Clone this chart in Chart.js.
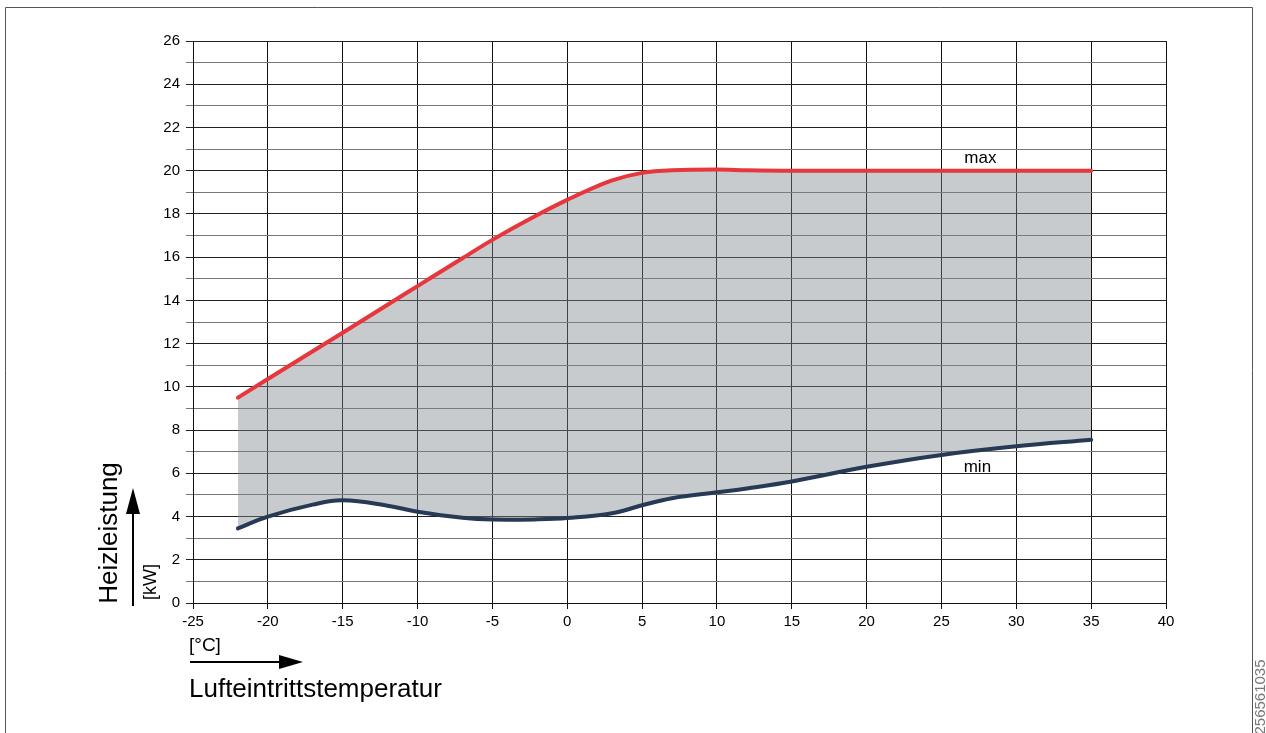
<!DOCTYPE html>
<html>
<head>
<meta charset="utf-8">
<script src="https://cdn.jsdelivr.net/npm/chart.js@4/dist/chart.umd.min.js"></script>
<style>
  html, body { margin: 0; padding: 0; background: #fff; }
  #wrap { width: 1266px; height: 733px; position: relative; }
</style>
</head>
<body>
<div id="wrap"><canvas id="myChart" width="1266" height="733"></canvas></div>
<script>
// outdoor air temperature [°C]
const temps = [-22, -20, -17, -15, -12, -10, -7, -5, -2, 0, 3, 5, 7, 10, 12, 15, 20, 25, 30, 35];
// heating power [kW]
const maxPower = [9.5, 10.36, 11.65, 12.5, 13.8, 14.66, 15.95, 16.8, 17.95, 18.65, 19.55, 19.9, 20.02, 20.05, 20.02, 20.0, 20.0, 20.0, 20.0, 20.0];
const minPower = [3.45, 4.0, 4.55, 4.75, 4.5, 4.22, 3.94, 3.86, 3.87, 3.93, 4.15, 4.52, 4.85, 5.12, 5.3, 5.62, 6.3, 6.85, 7.25, 7.55];

const xTicks = [-25, -20, -15, -10, -5, 0, 5, 10, 15, 20, 25, 30, 35, 40];
const yTicks = [0, 2, 4, 6, 8, 10, 12, 14, 16, 18, 20, 22, 24, 26];

function toPoints(xs, ys) {
    return xs.map((x, i) => ({ x: x, y: ys[i] }));
}

const FONT = "'Liberation Sans', Arial, sans-serif";

const decorations = {
    id: "decorations",
    afterDraw(chart) {
        const ctx = chart.ctx;
        const xs = chart.scales.x;
        const ys = chart.scales.y;
        ctx.save();

        // picture frame
        ctx.strokeStyle = "#555";
        ctx.lineWidth = 1;
        ctx.beginPath();
        ctx.moveTo(5.5, 740);
        ctx.lineTo(5.5, 7.5);
        ctx.lineTo(1252.5, 7.5);
        ctx.lineTo(1252.5, 740);
        ctx.stroke();

        // curve labels
        ctx.fillStyle = "#000";
        ctx.font = "17px " + FONT;
        ctx.textAlign = "center";
        ctx.textBaseline = "middle";
        ctx.fillText("max", xs.getPixelForValue(27.6), ys.getPixelForValue(20.55));
        ctx.fillText("min", xs.getPixelForValue(27.4), ys.getPixelForValue(6.3));

        // y axis title + arrow
        ctx.save();
        ctx.translate(110, 533);
        ctx.rotate(-Math.PI / 2);
        ctx.font = "26px " + FONT;
        ctx.textAlign = "center";
        ctx.fillText("Heizleistung", 0, 0);
        ctx.restore();

        ctx.save();
        ctx.translate(151, 582);
        ctx.rotate(-Math.PI / 2);
        ctx.font = "18px " + FONT;
        ctx.textAlign = "center";
        ctx.fillText("[kW]", 0, 0);
        ctx.restore();

        ctx.lineWidth = 2;
        ctx.strokeStyle = "#000";
        ctx.beginPath();
        ctx.moveTo(133, 606);
        ctx.lineTo(133, 505);
        ctx.stroke();
        ctx.beginPath();
        ctx.moveTo(133, 488);
        ctx.lineTo(126, 514);
        ctx.lineTo(140, 514);
        ctx.closePath();
        ctx.fill();

        // x axis title + arrow
        ctx.font = "19px " + FONT;
        ctx.textAlign = "left";
        ctx.fillText("[°C]", 189, 646);
        ctx.beginPath();
        ctx.moveTo(190, 662);
        ctx.lineTo(285, 662);
        ctx.stroke();
        ctx.beginPath();
        ctx.moveTo(303, 662);
        ctx.lineTo(279, 655);
        ctx.lineTo(279, 669);
        ctx.closePath();
        ctx.fill();
        ctx.font = "26px " + FONT;
        ctx.fillText("Lufteintrittstemperatur", 189, 690);

        // picture id
        ctx.save();
        ctx.translate(1261, 697);
        ctx.rotate(-Math.PI / 2);
        ctx.font = "15px " + FONT;
        ctx.fillStyle = "#777";
        ctx.textAlign = "center";
        ctx.fillText("256561035", 0, 0);
        ctx.restore();

        ctx.restore();
    }
};

const ctx = document.getElementById("myChart").getContext("2d");
const chart = new Chart(ctx, {
    type: "line",
    data: {
        datasets: [
            {
                label: "min",
                data: toPoints(temps, minPower),
                borderColor: "#263a56",
                borderWidth: 4,
                pointRadius: 0,
                tension: 0.4,
                fill: false,
                borderCapStyle: "round",
                order: 1
            },
            {
                label: "max",
                data: toPoints(temps, maxPower),
                borderColor: "#e8363d",
                backgroundColor: "rgba(128, 134, 141, 0.43)",
                borderWidth: 4,
                pointRadius: 0,
                cubicInterpolationMode: "monotone",
                fill: "-1",
                borderCapStyle: "round",
                order: 2
            }
        ]
    },
    options: {
        responsive: false,
        animation: false,
        events: [],
        layout: { padding: { left: 145, right: 100, top: 41, bottom: 90 } },
        plugins: {
            legend: { display: false },
            tooltip: { enabled: false }
        },
        scales: {
            x: {
                type: "linear",
                min: -25,
                max: 40,
                afterFit: (scale) => { scale.height = 40; },
                afterBuildTicks: (scale) => { scale.ticks = xTicks.map(v => ({ value: v })); },
                grid: { color: "#111", lineWidth: 1, tickLength: 6, drawTicks: true },
                border: { color: "#111", width: 1 },
                ticks: {
                    color: "#000",
                    font: { family: FONT, size: 15 },
                    padding: 4,
                    maxRotation: 0
                }
            },
            y: {
                type: "linear",
                min: 0,
                max: 26,
                afterFit: (scale) => { scale.width = 48; },
                afterBuildTicks: (scale) => {
                    const t = [];
                    for (let v = 0; v <= 26; v++) t.push({ value: v });
                    scale.ticks = t;
                },
                grid: {
                    color: (c) => (c.tick && c.tick.value % 2 === 0) ? "#222" : "#777",
                    lineWidth: 1,
                    tickLength: 7,
                    drawTicks: true
                },
                border: { color: "#111", width: 1 },
                ticks: {
                    color: "#000",
                    font: { family: FONT, size: 15 },
                    padding: 6,
                    callback: (v) => yTicks.includes(v) ? String(v) : ""
                }
            }
        }
    },
    plugins: [decorations]
});
</script>
</body>
</html>
